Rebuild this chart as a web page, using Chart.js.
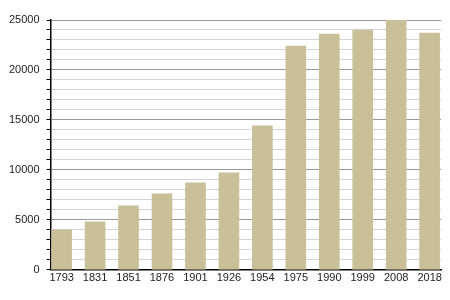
<!doctype html>
<html lang="en">
  <head>
    <meta charset="utf-8">
    <title>Population</title>
    <style>
      html, body { margin: 0; padding: 0; background: #fff; }
      .wrap { width: 450px; height: 300px; }
    </style>
  </head>
  <body>
    <div class="wrap">
      <canvas id="myChart_Bar"></canvas>
    </div>

    <script src="https://cdn.jsdelivr.net/npm/chart.js"></script>
    <script>
      // data
      const years = ['1793', '1831', '1851', '1876', '1901', '1926', '1954', '1975', '1990', '1999', '2008', '2018'];
      const population = [4000, 4800, 6400, 7600, 8700, 9700, 14400, 22400, 23600, 24000, 25000, 23700];
      const yTicks = [0, 5000, 10000, 15000, 20000, 25000];

      const barColor = 'rgb(201, 191, 153)';

      const points = years.map(function (y, i) {
        return { x: i, y: population[i] };
      });

      const config = {
        type: 'bar',
        data: {
          datasets: [{
            data: points,
            backgroundColor: barColor,
            borderWidth: 0,
            barThickness: 20
          }]
        },
        options: {
          responsive: false,
          animation: false,
          layout: { padding: { left: 2, right: 9, top: 20, bottom: 13 } },
          plugins: {
            legend: { display: false },
            tooltip: { enabled: false }
          },
          scales: {
            x: {
              type: 'linear',
              offset: false,
              min: -0.33,
              max: 11.34,
              afterBuildTicks: function (scale) {
                scale.ticks = years.map(function (_, i) { return { value: i }; });
              },
              ticks: {
                autoSkip: false,
                maxRotation: 0,
                padding: 2,
                color: '#222',
                font: { family: 'Liberation Sans', size: 11 },
                callback: function (value) { return years[value]; }
              },
              grid: { display: false, drawTicks: false },
              border: { display: true, color: '#000', width: 1.5 }
            },
            y: {
              min: 0,
              max: 25000,
              ticks: {
                stepSize: 1000,
                autoSkip: false,
                padding: 7,
                color: '#222',
                font: { family: 'Liberation Sans', size: 11 },
                callback: function (value) {
                  return yTicks.indexOf(value) >= 0 ? value : '';
                }
              },
              grid: {
                drawTicks: true,
                tickLength: 4,
                tickColor: '#000',
                color: function (ctx) {
                  return ctx.tick && ctx.tick.value % 5000 === 0 ? '#999' : '#d4d4d4';
                }
              },
              border: { display: true, color: '#000', width: 1.5 }
            }
          }
        }
      };

      const canvas = document.getElementById('myChart_Bar');
      canvas.width = 450;
      canvas.height = 300;
      new Chart(canvas, config);
    </script>
  </body>
</html>
